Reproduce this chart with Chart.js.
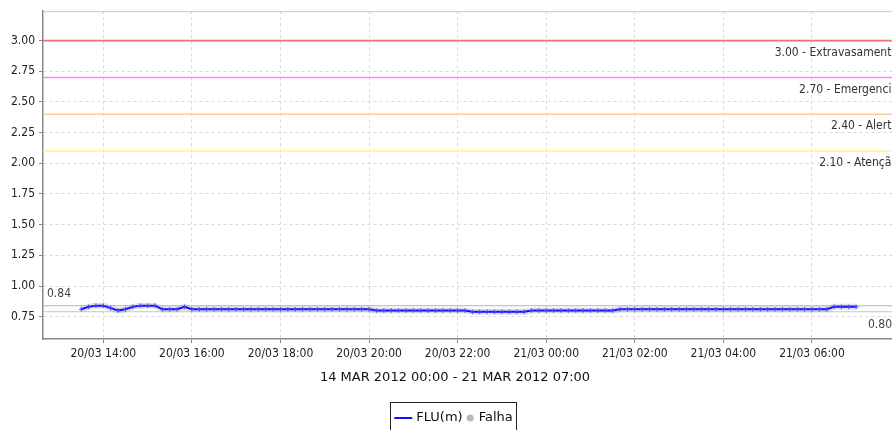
<!DOCTYPE html>
<html>
<head>
<meta charset="utf-8">
<script src="https://cdn.jsdelivr.net/npm/chart.js@4.4.1/dist/chart.umd.min.js"></script>
<style>
  html, body { margin: 0; padding: 0; background: #fff; overflow: hidden; }
  #grafico { display: block; }
</style>
</head>
<body>
<canvas id="grafico" width="900" height="430"></canvas>
<script>
// leituras FLU(m), uma a cada 10 min, de 20/03 13:30 ate 21/03 07:00
var inicioMin = 810;   // 20/03 13:30 em minutos desde 20/03 00:00
var passoMin = 10;
var niveis = [
    0.81, 0.83, 0.84, 0.84, 0.82, 0.80, 0.81, 0.83, 0.84, 0.84, 0.84, 0.81, 0.81, 0.81, 0.83, 0.81,
    0.81, 0.81, 0.81, 0.81, 0.81, 0.81, 0.81, 0.81, 0.81, 0.81, 0.81, 0.81,
    0.81, 0.81, 0.81, 0.81, 0.81, 0.81, 0.81, 0.81, 0.81, 0.81, 0.81, 0.81,
    0.80, 0.80, 0.80, 0.80, 0.80, 0.80, 0.80, 0.80, 0.80, 0.80, 0.80, 0.80, 0.80,
    0.79, 0.79, 0.79, 0.79, 0.79, 0.79, 0.79, 0.79,
    0.80, 0.80, 0.80, 0.80, 0.80, 0.80, 0.80, 0.80, 0.80, 0.80, 0.80, 0.80,
    0.81, 0.81, 0.81, 0.81, 0.81, 0.81, 0.81, 0.81, 0.81, 0.81, 0.81, 0.81, 0.81, 0.81, 0.81,
    0.81, 0.81, 0.81, 0.81, 0.81, 0.81, 0.81, 0.81, 0.81, 0.81, 0.81, 0.81, 0.81, 0.81,
    0.83, 0.83, 0.83, 0.83
];

// cotas de referencia
var cotas = [3.00, 2.70, 2.40, 2.10];
var nomesCotas = ['Extravasamento', 'Emergencia', 'Alerta', 'Atenção'];
var coresCotas = ['#ee7474', '#ff88ff', '#ffc896', '#fff08c'];

// maximo / minimo do periodo
var refMax = 0.84;
var refMin = 0.79;
var rotulosRef = ['0.84', '0.80'];

var eixoXMin = 758.3;    // 20/03 12:38
var eixoXMax = 1912.5;   // 21/03 07:52
var eixoYMin = 0.568;
var eixoYMax = 3.24;
var passoX = 120;
var passoY = 0.25;
var tituloX = '14 MAR 2012 00:00 - 21 MAR 2012 07:00';
var legendaSeries = ['FLU(m)', 'Falha'];

var fonteCond = "'DejaVu Sans Condensed', 'Liberation Sans Narrow', 'DejaVu Sans'";
var fonte = "'DejaVu Sans', sans-serif";

function pad2(n) { return (n < 10 ? '0' : '') + n; }

function rotuloHora(m) {
    var dia = 20 + Math.floor(m / 1440);
    var hh = Math.floor((m % 1440) / 60);
    var mm = Math.round(m % 60);
    return pad2(dia) + '/03 ' + pad2(hh) + ':' + pad2(mm);
}

var pontos = [];
for (var i = 0; i < niveis.length; i++) {
    pontos.push({ x: inicioMin + i * passoMin, y: niveis[i] });
}

var datasets = [];
for (var c = 0; c < cotas.length; c++) {
    datasets.push({
        label: nomesCotas[c],
        data: [{ x: eixoXMin, y: cotas[c] }, { x: eixoXMax, y: cotas[c] }],
        borderColor: coresCotas[c],
        borderWidth: 1.6,
        pointRadius: 0,
        order: 5
    });
}
datasets.push({
    label: 'max',
    data: [{ x: eixoXMin, y: refMax }, { x: eixoXMax, y: refMax }],
    borderColor: '#c4c4c4', borderWidth: 1.2, pointRadius: 0, order: 4
});
datasets.push({
    label: 'min',
    data: [{ x: eixoXMin, y: refMin }, { x: eixoXMax, y: refMin }],
    borderColor: '#c4c4c4', borderWidth: 1.2, pointRadius: 0, order: 4
});
// sombra da linha
datasets.push({
    label: 'sombra',
    data: pontos,
    borderColor: 'rgba(150,150,170,0.3)',
    borderWidth: 6,
    pointRadius: 0,
    order: 3
});
datasets.push({
    label: legendaSeries[0],
    data: pontos,
    borderColor: '#1010ff',
    borderWidth: 2,
    pointStyle: 'cross',
    pointRadius: 2.2,
    pointBorderWidth: 1,
    pointBorderColor: '#4040ff',
    order: 1
});
datasets.push({
    label: legendaSeries[1],
    data: [],
    borderColor: '#b8b8b8',
    backgroundColor: '#b8b8b8',
    order: 2
});

const rotulos = {
    id: 'rotulos',
    beforeDatasetsDraw: function (chart) {
        var ctx = chart.ctx, a = chart.chartArea;
        ctx.save();
        ctx.strokeStyle = '#c8c8c8';
        ctx.lineWidth = 1;
        ctx.beginPath();
        ctx.moveTo(a.left, a.top + 0.5);
        ctx.lineTo(a.right, a.top + 0.5);
        ctx.stroke();
        ctx.restore();
    },
    afterDatasetsDraw: function (chart) {
        var ctx = chart.ctx, a = chart.chartArea, ys = chart.scales.y;
        ctx.save();
        ctx.font = '12px ' + fonteCond;
        ctx.fillStyle = '#333';
        ctx.textBaseline = 'middle';
        ctx.textAlign = 'right';
        for (var c = 0; c < cotas.length; c++) {
            ctx.fillText(cotas[c].toFixed(2) + ' - ' + nomesCotas[c], a.right + 3, ys.getPixelForValue(cotas[c]) + 12);
        }
        ctx.textAlign = 'left';
        ctx.fillStyle = '#444';
        ctx.fillText(rotulosRef[0], a.left + 4, ys.getPixelForValue(refMax) - 12);
        ctx.fillText(rotulosRef[1], a.right - 27, ys.getPixelForValue(refMin) + 13);
        ctx.restore();
    },
    afterDraw: function (chart) {
        var ctx = chart.ctx;
        ctx.save();
        // titulo do eixo X
        ctx.font = '13px ' + fonte;
        ctx.fillStyle = '#111';
        ctx.textAlign = 'center';
        ctx.textBaseline = 'middle';
        ctx.fillText(tituloX, 455, 378);

        // legenda
        var cx = 453.5, ly = 418;
        ctx.font = '13px ' + fonte;
        var w1 = ctx.measureText(legendaSeries[0]).width;
        var w2 = ctx.measureText(legendaSeries[1]).width;
        var total = 18 + 4 + w1 + 4 + 7 + 5 + w2;
        var x0 = cx - total / 2;
        ctx.strokeStyle = '#222';
        ctx.lineWidth = 1;
        ctx.strokeRect(Math.round(x0 - 4) + 0.5, 402.5, Math.round(total + 8), 40);
        ctx.strokeStyle = '#1010ff';
        ctx.lineWidth = 2;
        ctx.beginPath();
        ctx.moveTo(x0, ly);
        ctx.lineTo(x0 + 18, ly);
        ctx.stroke();
        ctx.fillStyle = '#111';
        ctx.textAlign = 'left';
        ctx.fillText(legendaSeries[0], x0 + 22, ly);
        var xc = x0 + 22 + w1 + 4 + 3.5;
        ctx.fillStyle = '#b8b8b8';
        ctx.beginPath();
        ctx.arc(xc, ly, 3.5, 0, Math.PI * 2);
        ctx.fill();
        ctx.fillStyle = '#111';
        ctx.fillText(legendaSeries[1], xc + 3.5 + 5, ly);
        ctx.restore();
    }
};

const ctx = document.getElementById('grafico').getContext('2d');
const grafico = new Chart(ctx, {
    type: 'line',
    data: { datasets: datasets },
    plugins: [rotulos],
    options: {
        responsive: false,
        animation: false,
        devicePixelRatio: 1,
        layout: { padding: { top: 10, right: 1, left: 0, bottom: 0 } },
        plugins: {
            legend: { display: false },
            tooltip: { enabled: false }
        },
        elements: { line: { tension: 0 } },
        scales: {
            x: {
                type: 'linear',
                min: eixoXMin,
                max: eixoXMax,
                afterFit: function (s) { s.height = 91; },
                grid: { color: '#dadada', tickColor: '#888', tickLength: 4 },
                border: { color: '#888', width: 1.5, dash: [3, 3] },
                ticks: {
                    stepSize: passoX,
                    includeBounds: false,
                    autoSkip: false,
                    maxRotation: 0,
                    padding: 4,
                    color: '#222',
                    font: { family: fonteCond, size: 12 },
                    callback: function (v) { return rotuloHora(v); }
                }
            },
            y: {
                type: 'linear',
                min: eixoYMin,
                max: eixoYMax,
                afterFit: function (s) { s.width = 43; },
                grid: { color: '#dadada', tickColor: '#888', tickLength: 4 },
                border: { color: '#888', width: 1.5, dash: [3, 3] },
                ticks: {
                    stepSize: passoY,
                    includeBounds: false,
                    padding: 4,
                    color: '#222',
                    font: { family: fonteCond, size: 12 },
                    callback: function (v) { return v.toFixed(2); }
                }
            }
        }
    }
});
</script>
</body>
</html>
